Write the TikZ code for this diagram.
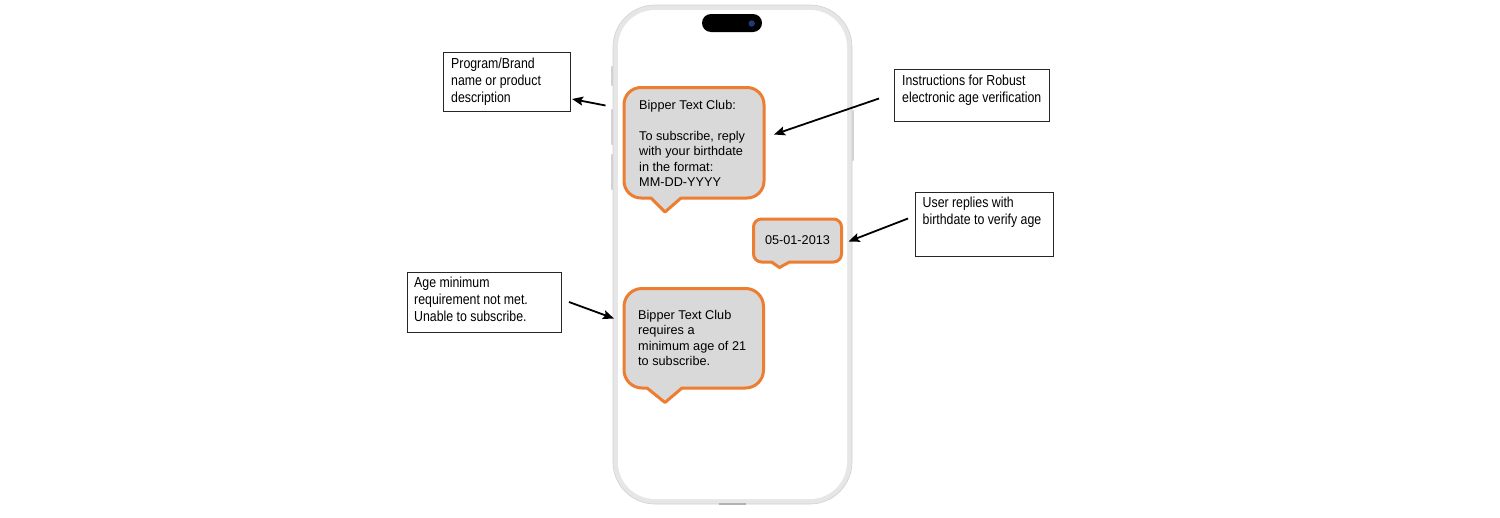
\documentclass[tikz,border=0pt]{standalone}
\usepackage{fontspec}
\setmainfont{Liberation Sans}
\newfontfamily\annfont[FakeStretch=0.85]{Liberation Sans}
\usetikzlibrary{arrows.meta}
\definecolor{bubor}{HTML}{ED7D31}
\definecolor{bubfill}{HTML}{D9D9D9}
\definecolor{phgray}{HTML}{E6E6E6}
\definecolor{phedge}{HTML}{D2D2D2}
\definecolor{camblue}{HTML}{1F3A78}
\begin{document}
\begin{tikzpicture}[x=1pt,y=-1pt,
  bubble/.style={draw=bubor, line width=3pt, fill=bubfill, line join=round},
  bubtext/.style={font=\fontsize{12.7}{15.5}\selectfont, align=left, inner sep=0pt, text=black},
  annbox/.style={draw=black!85, line width=0.8pt, fill=white, inner sep=0pt},
  anntext/.style={font=\annfont\fontsize{14.5}{17}\selectfont, align=left, inner sep=0pt, anchor=north west},
  arr/.style={-{Stealth[length=11pt,width=9pt,inset=2pt]}, line width=1.8pt, black},
  sidebtn/.style={line width=2.2pt, draw=phedge, line cap=round}]
\useasboundingbox (0,0) rectangle (1500,517);
\fill[white] (0,0) rectangle (1500,517);

% phone side buttons
\draw[sidebtn] (612,67) -- (612,85);
\draw[sidebtn] (612,110) -- (612,144);
\draw[sidebtn] (612,155) -- (612,189);
\draw[sidebtn] (853,111) -- (853,160);

% phone body
\fill[phgray, draw=phedge, line width=0.6pt, rounded corners=42] (613,5) rectangle (852,504);
\fill[white, rounded corners=37] (618,10) rectangle (847,499);
\fill[black, rounded corners=9] (702,14) rectangle (762,32);
\fill[camblue] (751.7,23.5) circle (3.2);
\fill[black!30] (719,502.5) rectangle (746,505);

% bubble 1
\draw[bubble] (665,212) -- (651,198) [rounded corners=17] -- (624,198) -- (624,87.5) -- (764,87.5) -- (764,198) [sharp corners] -- (681,198) -- cycle;
\node[bubtext, anchor=north west] (msg1) at (639,100) {Bipper Text Club:\\ \mbox{}\\ To subscribe, reply\\ with your birthdate\\ in the format:\\ MM-DD-YYYY};

% bubble 2
\draw[bubble] (779.5,267.5) -- (771.5,262) [rounded corners=8] -- (753.5,262) -- (753.5,219) -- (841.5,219) -- (841.5,262) [sharp corners] -- (789.5,262) -- cycle;
\node[bubtext] (msg2) at (797.5,240) {05-01-2013};

% bubble 3
\draw[bubble] (665,402.5) -- (647,388) [rounded corners=18] -- (624,388) -- (624,288.5) -- (763.5,288.5) -- (763.5,388) [sharp corners] -- (682,388) -- cycle;
\node[bubtext, anchor=north west] (msg3) at (638,310) {Bipper Text Club\\ requires a\\ minimum age of 21\\ to subscribe.};

% annotation boxes
\node[annbox, anchor=north west, minimum width=126.5pt, minimum height=59pt] (boxA) at (443,51.5) {};
\node[anntext] (txtA) at (451,57.5) {Program/Brand\\ name or product\\ description};

\node[annbox, anchor=north west, minimum width=154.5pt, minimum height=52.5pt] (boxB) at (894,68.5) {};
\node[anntext] (txtB) at (902,75) {Instructions for Robust\\ electronic age verification};

\node[annbox, anchor=north west, minimum width=138.5pt, minimum height=64.5pt] (boxC) at (914.5,191.5) {};
\node[anntext] (txtC) at (922.5,197) {User replies with\\ birthdate to verify age};

\node[annbox, anchor=north west, minimum width=153.5pt, minimum height=60.5pt] (boxD) at (407,271.5) {};
\node[anntext] (txtD) at (414,277) {Age minimum\\ requirement not met.\\ Unable to subscribe.};

% arrows
\coordinate (aA1) at (605.5,105.5);
\coordinate (aA2) at (572,99);
\draw[arr] (aA1) -- (aA2);
\coordinate (aB1) at (879,98.5);
\coordinate (aB2) at (774,134.5);
\draw[arr] (aB1) -- (aB2);
\coordinate (aC1) at (908,218.5);
\coordinate (aC2) at (848.5,241.5);
\draw[arr] (aC1) -- (aC2);
\coordinate (aD1) at (569,302);
\coordinate (aD2) at (614,318.5);
\draw[arr] (aD1) -- (aD2);
\end{tikzpicture}
\end{document}
